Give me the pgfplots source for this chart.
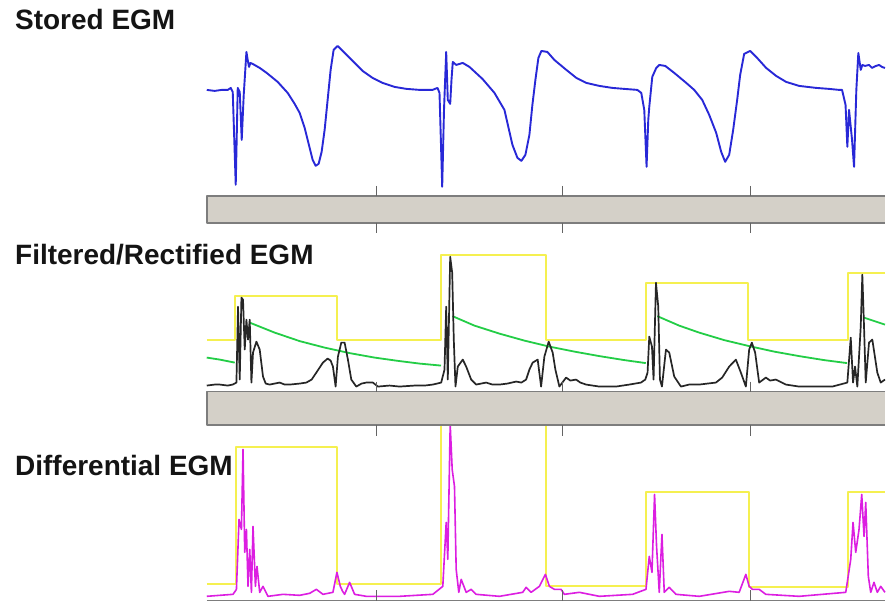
\documentclass[border=0pt]{standalone}
\usepackage{pgfplots}
\pgfplotsset{compat=1.18}
\usepackage{fontspec}
\setmainfont{Liberation Sans}
\definecolor{egmblue}{RGB}{40,40,215}
\definecolor{egmyellow}{RGB}{245,240,80}
\definecolor{egmgreen}{RGB}{35,205,70}
\definecolor{egmmag}{RGB}{220,30,225}
\definecolor{barfill}{RGB}{212,208,200}
\definecolor{barline}{RGB}{125,125,125}
\begin{document}
\begin{tikzpicture}
\begin{axis}[scale only axis, width=886pt, height=604pt,
  xmin=0, xmax=886, ymin=0, ymax=604, y dir=reverse,
  hide axis, clip=false,
  every axis plot/.append style={line join=round}]
% page background
\addplot[draw=none, fill=white] coordinates {(0,0)(886,0)(886,604)(0,604)} -- cycle;

% ---------- Panel 1: Stored EGM ----------
\addplot[egmblue, line width=1.9pt] coordinates {
(207,90)(215,91)(222,90)(228,90)(231,88)(233,92)(236,185)(238,88)(240,92)(242,140)(244,95)(246.7,52)(248,60)(249.3,67)(250.7,63)(253,64)(260,68)(267,73)(278,82)(288,93)(295,104)(300,113)(305,128)(310,148)(313,160)(316,166)(319,164)(322,152)(325,130)(328,100)(331,70)(334,50)(338,46)(342,50)(347,55)(355,63)(363,71)(373,78)(383,83)(395,87)(407,89)(420,90)(433,90)(438,88)(440,93)(442.7,187)(444.5,110)(446.7,52)(448.3,100)(450.7,104)(452,80)(453.3,62)(456.7,65)(463.3,63)(470,67)(483,79)(495,93)(505,110)(513,145)(518,158)(522,161)(526,155)(530,135)(533,105)(536,80)(539,58)(542,51)(548,52)(555,60)(567,70)(577,78)(587,83)(600,86)(613,88)(625,89)(638,90)(642,93)(645,110)(647.3,167)(649,120)(650,107)(653,77)(657,68)(660,65)(666,66)(675,73)(687,83)(695,90)(703,100)(710,115)(717,133)(722,152)(726,162)(730,155)(734,130)(738,100)(741,75)(745,54)(751,51)(758,58)(767,68)(777,76)(787,82)(800,86)(817,88)(830,89)(840,90)(843,90)(846.5,105)(848.3,147)(850,110)(853,140)(855,167)(857.3,90)(859.3,53)(861.7,70)(863.3,65)(866,66)(870,65)(873,68)(877,66)(880,65)(883,67)(886,68)};
% bar 1 (runs off the right edge)
\addplot[fill=barfill, draw=none] coordinates {(207,196.5)(886,196.5)(886,223)(207,223)} -- cycle;
\addplot[barline, line width=1.6pt] coordinates {(886,196.5)(207,196.5)(207,223)(886,223)};
\addplot[barline!80!black, line width=1pt] coordinates {(376.5,186)(376.5,196.5)};
\addplot[barline!80!black, line width=1pt] coordinates {(563,186)(563,196.5)};
\addplot[barline!80!black, line width=1pt] coordinates {(751,186)(751,196.5)};
\addplot[barline!80!black, line width=1pt] coordinates {(376.5,223)(376.5,233)};
\addplot[barline!80!black, line width=1pt] coordinates {(563,223)(563,233)};
\addplot[barline!80!black, line width=1pt] coordinates {(751,223)(751,233)};

% ---------- Panel 2: Filtered/Rectified EGM ----------
\addplot[egmyellow, line width=2pt] coordinates {
(207,340)(235,340)(235,296)(337.5,296)(337.5,340)(441.5,340)(441.5,255)(546.5,255)(546.5,340)(646.5,340)(646.5,283.5)(749,283.5)(749,340)(848.5,340)(848.5,273.5)(886,273.5)};
\addplot[egmgreen, line width=1.8pt] coordinates {(207,358)(220,360)(235,363)};
\addplot[egmgreen, line width=1.8pt] coordinates {(250,323)(275,333)(300,341.5)(325,348)(350,353.5)(375,358)(400,361.5)(420,364)(441.5,366)};
\addplot[egmgreen, line width=1.8pt] coordinates {(453,316.5)(475,326)(500,334)(525,341)(550,347)(575,352)(600,356.5)(625,360.5)(646.5,363.5)};
\addplot[egmgreen, line width=1.8pt] coordinates {(658,316.5)(680,326)(700,333)(725,340.5)(750,346.5)(775,352)(800,356.5)(825,360.5)(848,363.5)};
\addplot[egmgreen, line width=1.8pt] coordinates {(865,318)(886,325)};
\addplot[black!85, line width=1.7pt] coordinates {
(207,386)(215,385)(220,385)(228,386)(233,385)(236.7,383)(238.3,307)(240,380)(241.7,298)(243.3,300)(245,350)(246.7,320)(248.3,340)(250,320)(251.7,383)(253.3,353)(256.7,342)(260,350)(263.3,377)(266,384)(270,385)(275,384)(280,383)(285,385)(290,385)(300,384)(306.7,383)(312,380)(316.7,373)(323.3,363)(328,359)(331,361)(333.3,367)(336,387)(338.3,357)(341.7,343)(345,343)(348.3,360)(351.7,380)(356.7,387)(362,384)(366.7,383)(373.3,383)(378.3,387)(390,386)(400,387)(415,386)(425,386)(433.3,385)(441.7,383)(445,370)(446.7,307)(448.3,380)(450.7,257)(452.7,273)(454.3,340)(456,387)(458.3,367)(463.3,360)(466.7,367)(471.7,380)(476.7,385)(486.7,383)(493,385)(500,385)(508,384)(516.7,382)(522,383)(526.7,380)(530,370)(533.3,363)(538.3,360)(541.7,387)(545,357)(549.3,342)(553.3,353)(556,370)(560,387)(566.7,378)(571,381)(576.7,380)(581,383)(586.7,385)(600,387)(616.7,387)(630,385)(641.7,383)(646,380)(648.3,373)(650,337)(652.7,347)(654.3,380)(656.7,283)(659,307)(660.7,380)(662.7,387)(666.7,350)(670,353)(675,377)(681.7,387)(690,385)(700,385)(716.7,383)(723,378)(730,367)(736.7,360)(741.7,373)(746.7,387)(750,350)(752.7,343)(756,353)(760,383)(766.7,378)(771,381)(776.7,380)(786.7,385)(800,387)(833.3,387)(848.3,383)(851.7,338)(854,383)(856,367)(858.3,387)(861.7,327)(863.3,275)(865,327)(866.7,383)(870,343)(873.3,340)(878.3,373)(881.7,383)(886,380)};

% ---------- Panel 3: Differential EGM ----------
\addplot[egmyellow, line width=2pt] coordinates {
(207,585)(236.5,585)(236.5,447.5)(337.5,447.5)(337.5,584.5)(441.5,584.5)(441.5,424.5)(546.5,424.5)(546.5,587)(647,587)(647,493)(749.5,493)(749.5,588)(848.5,588)(848.5,493)(886,493)};
\addplot[egmmag, line width=1.6pt] coordinates {
(207,597)(220,596)(233.3,595)(236.7,590)(239.3,520)(241.7,530)(243.3,450)(245,553)(246.7,530)(248.3,587)(250,550)(251.7,593)(253.3,527)(255.7,587)(257.3,567)(260,593)(263.3,587)(268.3,597)(283.3,595)(300,596)(310,594)(316.7,590)(323.3,595)(333.3,593)(337.3,573)(340.7,587)(343,592)(345,595)(350,583)(355,595)(366.7,597)(400,597)(433.3,595)(443.3,587)(446.7,523)(448.3,560)(450.7,425)(452.7,470)(455,487)(456.7,570)(459.3,593)(461.7,580)(466.7,593)(471.7,590)(476.7,595)(500,597)(523.3,593)(526.7,588)(531.7,593)(540,587)(546,575)(550,587)(555,590)(561.7,590)(565,595)(580,593)(600,597)(633.3,595)(646.7,590)(650,557)(652.7,573)(655.3,495)(657.3,547)(660,593)(662.7,535)(665,593)(670,588)(676.7,595)(700,597)(730,592)(740,593)(746.7,575)(750,587)(753.3,590)(760,590)(766.7,595)(800,597)(846.7,593)(851.7,560)(854,523)(856.7,553)(860,530)(862.7,495)(865,537)(866.7,503)(869.3,577)(871.7,593)(875,583)(878.3,593)(881.7,587)(886,593)};

% bar 2 (drawn after panel 3 so that the clipped traces end under its edge)
\addplot[fill=barfill, draw=none] coordinates {(207,392)(886,392)(886,425.5)(207,425.5)} -- cycle;
\addplot[barline, line width=1.6pt] coordinates {(886,392)(207,392)(207,425.5)(886,425.5)};
\addplot[barline!80!black, line width=1pt] coordinates {(376.5,382)(376.5,392)};
\addplot[barline!80!black, line width=1pt] coordinates {(563,382)(563,392)};
\addplot[barline!80!black, line width=1pt] coordinates {(751,382)(751,392)};
\addplot[barline!80!black, line width=1pt] coordinates {(376.5,425.5)(376.5,436)};
\addplot[barline!80!black, line width=1pt] coordinates {(563,425.5)(563,436)};
\addplot[barline!80!black, line width=1pt] coordinates {(751,425.5)(751,436)};
% bottom axis line of panel 3
\addplot[barline, line width=1.2pt] coordinates {(207,601.5)(886,601.5)};
\addplot[barline!80!black, line width=1pt] coordinates {(376.5,591)(376.5,601.5)};
\addplot[barline!80!black, line width=1pt] coordinates {(563,591)(563,601.5)};
\addplot[barline!80!black, line width=1pt] coordinates {(751,591)(751,601.5)};

% titles
\node[anchor=base west, inner sep=0pt, font=\fontsize{28}{33}\selectfont\bfseries, text=black!92] at (axis cs:15,30) {Stored EGM};
\node[anchor=base west, inner sep=0pt, font=\fontsize{28}{33}\selectfont\bfseries, text=black!92] at (axis cs:15,264.5) {Filtered/Rectified EGM};
\node[anchor=base west, inner sep=0pt, font=\fontsize{28}{33}\selectfont\bfseries, text=black!92] at (axis cs:15,476.5) {Differential EGM};
\end{axis}
\end{tikzpicture}
\end{document}
